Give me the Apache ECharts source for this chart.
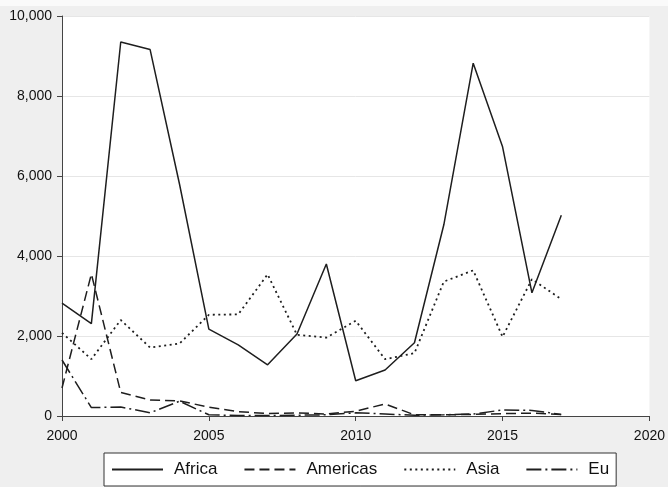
<!DOCTYPE html>
<html>
<head>
<meta charset="utf-8">
<style>
  html, body { margin: 0; padding: 0; background: #efefef; }
  #chart { width: 668px; height: 487px; }
</style>
<script src="https://cdn.jsdelivr.net/npm/echarts@6/dist/echarts.min.js"></script>
</head>
<body>
<div id="chart"></div>
<script>
// Years on the x axis
const years = [2000, 2001, 2002, 2003, 2004, 2005, 2006, 2007, 2008,
               2009, 2010, 2011, 2012, 2013, 2014, 2015, 2016, 2017];

// Values per region
const africa   = [2820, 2310, 9350, 9160, 5800, 2170, 1780, 1280, 2050,
                  3800, 880, 1150, 1830, 4780, 8820, 6730, 3080, 5020];
const americas = [700, 3550, 590, 400, 380, 220, 110, 60, 80,
                  50, 120, 300, 30, 30, 40, 60, 70, 40];
const asia     = [2080, 1420, 2400, 1710, 1810, 2530, 2540, 3540, 2030,
                  1960, 2380, 1420, 1570, 3360, 3640, 1980, 3420, 2920];
const eu       = [1400, 210, 225, 80, 370, 30, 10, 10, 20,
                  30, 80, 50, 20, 30, 50, 150, 140, 40];

// Axis ticks
const xTicks = [2000, 2005, 2010, 2015, 2020];
const yTicks = [0, 2000, 4000, 6000, 8000, 10000];

const pairs = vals => years.map((y, i) => [y, vals[i]]);
const ink = '#1e1e1e';

function lineSeries(name, vals, dash, width) {
  return {
    name: name,
    type: 'line',
    data: pairs(vals),
    symbol: 'none',
    showSymbol: false,
    animation: false,
    lineStyle: { color: ink, width: width, type: dash },
    itemStyle: { color: ink }
  };
}

const chart = echarts.init(document.getElementById('chart'), null, { renderer: 'canvas' });
chart.setOption({
  backgroundColor: '#efefef',
  animation: false,
  graphic: [{
    type: 'rect', left: 0, top: 0, z: 0, silent: true,
    shape: { x: 0, y: 0, width: 668, height: 6 },
    style: { fill: '#fafafa' }
  }],
  grid: { left: 62, right: 12, top: 16, bottom: 71, show: true,
          backgroundColor: '#ffffff', borderWidth: 0 },
  xAxis: {
    type: 'value',
    min: xTicks[0], max: xTicks[xTicks.length - 1], interval: 5,
    axisLine: { show: true, lineStyle: { color: '#444', width: 1 } },
    axisTick: { show: true, length: 5, lineStyle: { color: '#444' } },
    axisLabel: { color: '#111', fontFamily: 'Liberation Sans, Arial', fontSize: 14, margin: 13,
                 formatter: v => String(v) },
    splitLine: { show: false }
  },
  yAxis: {
    type: 'value',
    min: yTicks[0], max: yTicks[yTicks.length - 1], interval: 2000,
    axisLine: { show: true, lineStyle: { color: '#444', width: 1 } },
    axisTick: { show: true, length: 5, lineStyle: { color: '#444' } },
    axisLabel: { color: '#111', fontFamily: 'Liberation Sans, Arial', fontSize: 14, margin: 10,
                 formatter: v => v.toLocaleString('en-US') },
    splitLine: { show: true, lineStyle: { color: '#e6e6e6', width: 1 } }
  },
  legend: {
    left: 104, top: 453,
    orient: 'horizontal',
    backgroundColor: '#ffffff',
    borderColor: '#333',
    borderWidth: 1,
    padding: [8, 7, 8, 7],
    itemWidth: 51, itemHeight: 14,
    itemGap: 26,
    itemStyle: { opacity: 0 },
    textStyle: { color: '#111', fontFamily: 'Liberation Sans, Arial', fontSize: 17,
                 padding: [0, 0, 0, 6] },
    data: ['Africa', 'Americas', 'Asia', 'Eu']
  },
  series: [
    lineSeries('Africa', africa, 'solid', 1.5),
    lineSeries('Americas', americas, [10, 5], 1.5),
    lineSeries('Asia', asia, [2, 3.5], 1.8),
    lineSeries('Eu', eu, [15, 4, 2, 4], 1.5)
  ]
});
</script>
</body>
</html>
